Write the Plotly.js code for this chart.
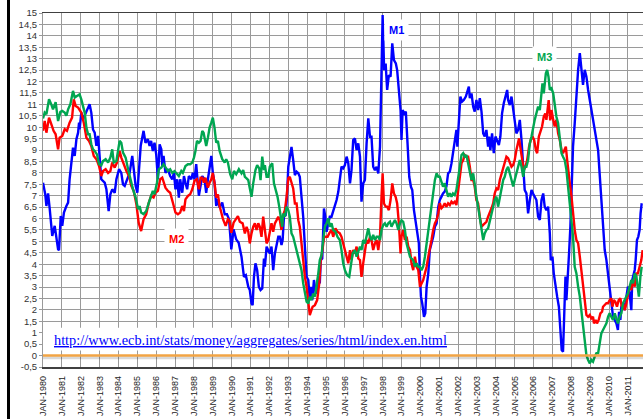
<!DOCTYPE html>
<html><head><meta charset="utf-8">
<script src="https://cdn.plot.ly/plotly-3.0.1.min.js"></script>
<style>
html,body{margin:0;padding:0;background:#fff;overflow:hidden;width:643px;height:419px;}
#chart{position:absolute;left:0;top:0;width:660px;height:419px;}
#frame{position:absolute;left:7px;top:0;width:3px;height:419px;background:#000;}
</style></head><body>
<div id="chart"></div><div id="frame"></div>
<script>
const xTickYears = [1980,1981,1982,1983,1984,1985,1986,1987,1988,1989,1990,1991,1992,1993,1994,1995,1996,1997,1998,1999,2000,2001,2002,2003,2004,2005,2006,2007,2008,2009,2010,2011];
const xTickLabels = ['JAN-1980','JAN-1981','JAN-1982','JAN-1983','JAN-1984','JAN-1985','JAN-1986','JAN-1987','JAN-1988','JAN-1989','JAN-1990','JAN-1991','JAN-1992','JAN-1993','JAN-1994','JAN-1995','JAN-1996','JAN-1997','JAN-1998','JAN-1999','JAN-2000','JAN-2001','JAN-2002','JAN-2003','JAN-2004','JAN-2005','JAN-2006','JAN-2007','JAN-2008','JAN-2009','JAN-2010','JAN-2011'];
const yTickVals = [-0.5,0,0.5,1,1.5,2,2.5,3,3.5,4,4.5,5,5.5,6,6.5,7,7.5,8,8.5,9,9.5,10,10.5,11,11.5,12,12.5,13,13.5,14,14.5,15];
const yTickLabels = ['-0,5','0','0,5','1','1,5','2','2,5','3','3,5','4','4,5','5','5,5','6','6,5','7','7,5','8','8,5','9','9,5','10','10,5','11','11,5','12','12,5','13','13,5','14','14,5','15'];

const m1X = [1980.00,1980.12,1980.18,1980.27,1980.35,1980.49,1980.62,1980.71,1980.80,1980.85,1980.94,1981.02,1981.11,1981.24,1981.33,1981.41,1981.50,1981.59,1981.68,1981.77,1981.86,1981.91,1981.94,1982.03,1982.12,1982.30,1982.47,1982.56,1982.65,1982.74,1982.83,1982.92,1983.00,1983.09,1983.27,1983.36,1983.48,1983.57,1983.67,1983.80,1983.89,1984.03,1984.15,1984.24,1984.33,1984.45,1984.59,1984.73,1984.82,1984.91,1985.00,1985.09,
1985.18,1985.33,1985.43,1985.56,1985.65,1985.73,1985.82,1985.91,1986.00,1986.09,1986.18,1986.27,1986.32,1986.39,1986.49,1986.62,1986.74,1986.85,1986.94,1987.02,1987.11,1987.20,1987.27,1987.38,1987.47,1987.55,1987.64,1987.73,1987.86,1987.94,1988.03,1988.12,1988.17,1988.26,1988.35,1988.44,1988.56,1988.65,1988.74,1988.83,1988.92,1989.00,1989.09,1989.18,1989.27,1989.36,1989.50,1989.63,1989.75,1989.86,1989.98,1990.10,1990.24,1990.37,
1990.52,1990.65,1990.75,1990.88,1990.96,1991.05,1991.11,1991.18,1991.26,1991.35,1991.44,1991.53,1991.62,1991.71,1991.76,1991.85,1991.94,1992.02,1992.11,1992.20,1992.29,1992.38,1992.47,1992.55,1992.64,1992.70,1992.77,1992.86,1992.93,1993.00,1993.08,1993.17,1993.26,1993.35,1993.44,1993.53,1993.61,1993.70,1993.79,1993.88,1993.97,1994.06,1994.14,1994.20,1994.27,1994.36,1994.46,1994.55,1994.62,1994.67,1994.72,1994.80,1994.89,1994.96,1995.03,1995.12,1995.20,1995.29,1995.38,1995.47,1995.56,1995.65,
1995.73,1995.82,1995.91,1996.00,1996.09,1996.18,1996.27,1996.35,1996.44,1996.53,1996.62,1996.71,1996.80,1996.88,1996.97,1997.06,1997.15,1997.24,1997.33,1997.41,1997.50,1997.59,1997.68,1997.77,1997.86,1997.94,1998.00,1998.08,1998.16,1998.24,1998.33,1998.42,1998.51,1998.60,1998.70,1998.77,1998.86,1998.95,1999.00,1999.06,1999.15,1999.23,1999.32,1999.41,1999.50,1999.57,1999.66,1999.75,1999.83,1999.92,1999.98,2000.03,2000.10,2000.19,2000.26,2000.33,2000.42,2000.50,2000.59,2000.68,2000.77,2000.86,2000.95,
2001.03,2001.12,2001.20,2001.29,2001.38,2001.47,2001.56,2001.65,2001.73,2001.82,2001.91,2001.96,2002.05,2002.12,2002.21,2002.30,2002.41,2002.49,2002.57,2002.62,2002.71,2002.80,2002.88,2002.97,2003.06,2003.15,2003.24,2003.33,2003.41,2003.50,2003.59,2003.64,2003.71,2003.80,2003.89,2003.98,2004.07,2004.16,2004.24,2004.33,2004.42,2004.53,2004.60,2004.65,2004.74,2004.83,2004.92,2005.00,2005.09,2005.18,2005.27,2005.36,2005.45,2005.53,2005.62,2005.71,2005.80,2005.89,2005.97,2006.06,2006.15,2006.24,
2006.33,2006.42,2006.51,2006.59,2006.68,2006.77,2006.86,2006.91,2007.00,2007.07,2007.16,2007.25,2007.34,2007.42,2007.49,2007.56,2007.63,2007.69,2007.74,2007.81,2007.88,2007.95,2008.02,2008.09,2008.18,2008.27,2008.36,2008.45,2008.53,2008.62,2008.71,2008.80,2008.89,2008.98,2009.06,2009.15,2009.24,2009.33,2009.42,2009.50,2009.59,2009.68,2009.77,2009.86,2009.94,2010.00,2010.07,2010.12,2010.21,2010.30,2010.39,2010.47,2010.53,2010.60,2010.65,2010.74,2010.83,2010.92,2011.00,2011.09,2011.18,2011.23,2011.30,2011.36,2011.41,2011.48,2011.55,2011.62,2011.67,2011.73];
const m1Y = [7.57,7.06,6.55,7.1,6.48,5.24,5.68,5.16,4.65,4.62,6.11,5.68,6.26,6.55,6.7,7.72,8.3,9.1,8.74,9.47,9.76,10.2,9.9,10.64,10.35,10.71,11.0,10.64,9.9,9.76,9.18,9.62,8.6,7.72,7.57,7.28,6.33,7.06,7.28,7.13,7.72,8.16,8.0,7.5,7.43,7.72,8.0,8.74,8.16,7.43,7.13,8.0,
9.2,9.84,9.32,9.47,9.18,9.4,8.96,9.32,8.81,7.72,9.25,9.03,8.3,8.74,8.0,8.16,7.86,7.72,8.0,7.28,7.72,6.92,7.72,7.13,7.86,7.57,7.28,7.86,7.72,8.0,7.72,8.38,7.86,7.0,7.43,7.86,7.72,7.13,7.72,8.3,8.74,8.0,7.57,6.55,6.84,6.48,6.7,6.19,6.19,5.97,4.65,5.53,5.09,4.94,
4.33,3.45,3.52,3.01,2.87,2.28,2.21,3.45,4.04,3.74,3.01,2.87,2.94,4.25,3.89,4.77,4.62,4.47,4.77,3.74,4.47,4.91,5.2,5.2,4.84,5.06,6.08,6.15,6.95,8.27,8.71,9.14,8.56,7.9,8.05,7.98,7.83,6.95,6.08,4.77,3.45,3.31,2.43,3.01,2.43,3.31,2.72,2.87,3.45,3.16,4.18,4.25,6.44,6.08,5.42,5.79,6.08,6.08,6.3,6.52,6.81,7.17,
7.69,8.27,8.2,8.34,8.71,8.42,7.54,8.12,9.44,9.51,9.0,9.29,8.71,6.74,7.54,7.69,9.29,10.39,9.58,9.58,8.27,8.12,8.27,7.98,9.14,12.06,14.91,12.5,12.79,11.63,12.28,12.21,13.67,12.94,12.79,12.5,11.48,10.75,9.44,10.75,10.6,10.68,9.29,7.83,7.39,7.25,6.37,5.79,5.35,4.91,3.45,2.58,2.28,1.7,1.85,3.01,3.6,4.62,4.91,5.2,5.64,5.79,6.52,
6.81,6.96,7.1,7.18,7.4,7.98,8.05,8.42,8.86,9.29,9.88,9.15,10.32,11.34,11.12,11.19,11.34,11.56,11.78,11.27,11.48,10.9,10.68,11.19,10.75,11.27,10.68,9.73,9.59,9.88,9.15,9.59,9.0,9.73,8.86,9.59,9.44,9.22,9.59,10.61,11.05,11.48,11.63,11.19,10.97,11.34,10.75,10.17,9.73,9.88,10.32,9.44,7.98,7.25,7.1,6.23,6.81,7.25,7.1,6.96,6.81,6.08,
5.94,6.81,7.1,6.52,6.37,6.52,5.35,4.18,4.33,3.6,3.02,2.58,2.14,1.12,0.24,0.17,2.14,3.46,2.43,3.31,4.48,5.64,7.4,9.15,10.17,11.63,12.51,13.24,12.65,11.85,12.51,12.21,11.63,11.19,10.9,10.46,10.03,9.59,9.0,7.98,6.81,5.35,4.62,4.18,3.6,3.02,2.73,2.14,1.7,1.56,1.41,1.12,1.92,1.56,2.14,2.29,1.99,2.58,3.02,2.73,1.99,3.31,3.6,3.75,4.18,5.06,5.21,5.5,6.23,6.67];

const m2X = [1980.00,1980.09,1980.18,1980.32,1980.44,1980.56,1980.67,1980.80,1980.88,1981.02,1981.15,1981.27,1981.41,1981.54,1981.63,1981.73,1981.86,1982.03,1982.16,1982.30,1982.44,1982.56,1982.69,1982.83,1982.97,1983.09,1983.18,1983.32,1983.45,1983.57,1983.67,1983.80,1983.92,1984.06,1984.15,1984.28,1984.42,1984.56,1984.68,1984.81,1984.95,1985.07,
1985.20,1985.33,1985.47,1985.61,1985.73,1985.86,1985.96,1986.09,1986.21,1986.32,1986.39,1986.49,1986.62,1986.74,1986.88,1987.02,1987.15,1987.27,1987.38,1987.47,1987.55,1987.68,1987.80,1987.91,1988.03,1988.16,1988.26,1988.35,1988.44,1988.53,1988.61,1988.74,1988.83,1988.92,1989.00,1989.09,1989.18,1989.27,1989.36,1989.45,1989.54,1989.68,1989.80,1989.89,1989.98,1990.10,1990.24,1990.33,
1990.43,1990.58,1990.70,1990.79,1990.88,1990.96,1991.05,1991.14,1991.23,1991.32,1991.41,1991.49,1991.58,1991.67,1991.76,1991.85,1991.94,1992.02,1992.11,1992.20,1992.29,1992.38,1992.47,1992.55,1992.64,1992.73,1992.82,1992.91,1993.00,1993.08,1993.17,1993.26,1993.35,1993.44,1993.53,1993.61,1993.70,1993.79,1993.88,1993.97,1994.06,1994.14,1994.20,1994.29,1994.41,1994.53,1994.64,1994.72,1994.81,1994.90,1994.99,1995.08,1995.17,1995.29,1995.38,1995.50,1995.61,
1995.73,1995.82,1995.91,1996.05,1996.18,1996.27,1996.35,1996.44,1996.53,1996.62,1996.71,1996.80,1996.88,1996.97,1997.06,1997.15,1997.24,1997.33,1997.41,1997.50,1997.59,1997.68,1997.77,1997.86,1997.94,1998.00,1998.07,1998.16,1998.24,1998.33,1998.42,1998.51,1998.60,1998.69,1998.77,1998.86,1998.95,1999.00,1999.09,1999.18,1999.27,1999.36,1999.45,1999.53,1999.62,1999.71,1999.80,1999.89,1999.98,2000.06,2000.15,2000.24,2000.33,2000.42,2000.50,2000.59,2000.68,2000.77,2000.86,2000.95,
2001.03,2001.12,2001.20,2001.29,2001.38,2001.47,2001.56,2001.65,2001.73,2001.82,2001.91,2002.00,2002.09,2002.18,2002.27,2002.35,2002.44,2002.53,2002.62,2002.71,2002.80,2002.88,2002.97,2003.06,2003.15,2003.24,2003.33,2003.41,2003.50,2003.59,2003.68,2003.77,2003.86,2003.94,2004.03,2004.12,2004.21,2004.30,2004.39,2004.47,2004.56,2004.65,2004.74,2004.83,2004.92,2005.00,2005.09,2005.18,2005.23,2005.32,2005.41,2005.48,2005.57,2005.66,2005.76,2005.85,2005.94,2006.03,2006.12,2006.19,2006.28,
2006.36,2006.45,2006.54,2006.62,2006.68,2006.74,2006.80,2006.88,2006.95,2007.04,2007.12,2007.21,2007.30,2007.39,2007.48,2007.56,2007.65,2007.71,2007.78,2007.83,2007.92,2008.01,2008.09,2008.18,2008.27,2008.36,2008.45,2008.53,2008.59,2008.66,2008.75,2008.80,2008.89,2008.98,2009.06,2009.15,2009.20,2009.29,2009.36,2009.45,2009.54,2009.63,2009.68,2009.77,2009.86,2009.95,2010.03,2010.12,2010.18,2010.25,2010.33,2010.42,2010.51,2010.60,2010.67,2010.74,2010.83,2010.92,2011.00,2011.09,2011.18,2011.27,2011.36,2011.45,2011.53,2011.62,2011.71,2011.78];
const m2Y = [9.84,10.27,9.76,10.42,10.13,9.84,9.69,9.03,9.54,9.62,9.91,9.84,10.2,10.42,11.22,10.93,10.86,10.64,10.2,9.54,9.4,9.18,8.74,8.6,8.3,7.86,8.08,8.16,8.0,8.08,8.45,8.23,8.45,8.96,8.67,8.38,8.08,7.86,7.43,7.21,6.62,5.82,
5.45,5.97,6.19,6.7,6.99,6.92,7.13,7.21,7.72,7.79,7.57,7.35,7.21,7.13,6.7,6.26,6.19,6.26,6.55,6.33,6.84,6.99,7.06,7.28,7.65,7.72,7.28,7.79,7.79,7.57,7.79,7.35,7.57,7.72,8.0,7.57,6.92,7.06,6.55,6.26,5.97,5.68,5.97,5.9,5.38,5.82,5.97,6.11,
5.86,5.79,5.35,5.64,5.42,4.91,5.35,5.64,5.79,5.5,5.79,5.64,5.2,6.08,5.5,4.91,5.06,5.5,5.79,5.42,5.79,5.93,6.08,5.93,5.5,6.15,6.37,6.95,7.76,7.83,7.61,7.32,6.66,6.66,5.93,5.64,4.91,4.04,3.45,3.01,2.28,1.77,1.92,2.14,2.21,2.43,3.16,4.18,4.62,5.2,5.2,5.2,5.35,5.5,5.2,5.57,5.42,
5.35,5.2,4.91,4.33,4.04,4.62,4.18,4.62,4.47,4.77,4.25,4.18,3.45,4.04,4.62,5.06,4.91,5.2,5.06,4.62,4.91,5.06,4.62,5.2,6.95,7.98,6.66,6.52,6.52,6.37,6.81,7.54,7.1,6.95,6.66,5.79,4.47,5.2,5.5,5.06,5.2,4.77,4.62,4.04,3.74,4.33,3.89,3.74,3.01,3.16,3.31,3.6,3.89,4.33,4.62,5.06,5.5,5.79,5.93,6.22,
6.67,6.45,6.52,6.67,6.52,6.67,6.59,6.74,6.67,6.74,6.59,7.25,7.98,8.42,8.56,8.78,8.71,8.71,8.27,7.69,7.69,7.4,6.81,6.67,6.08,5.64,5.72,5.79,5.86,6.08,6.23,6.45,6.67,7.1,7.32,7.25,7.69,7.98,8.27,8.49,8.71,8.64,8.42,8.27,8.35,8.56,9.0,9.44,9.51,9.0,8.42,8.13,8.27,8.56,9.15,9.44,9.59,9.44,9.0,8.86,9.59,
9.8,10.03,10.46,10.6,10.32,10.9,11.19,10.3,10.75,10.32,10.03,10.32,9.73,9.44,9.0,8.86,9.0,9.15,8.56,8.13,7.54,6.96,6.23,5.5,5.06,4.92,4.33,3.75,3.31,2.58,1.99,1.78,1.7,1.78,1.63,1.7,1.41,1.56,1.41,1.56,1.85,1.92,2.14,2.21,2.29,2.29,2.43,2.51,2.14,2.43,2.36,2.14,2.43,2.51,2.14,2.29,1.99,2.29,2.73,3.02,2.87,3.31,3.02,3.6,3.6,3.89,4.18,4.62];

const m3X = [1980.00,1980.09,1980.18,1980.32,1980.44,1980.53,1980.67,1980.80,1980.92,1981.02,1981.15,1981.24,1981.33,1981.45,1981.59,1981.68,1981.80,1981.94,1982.03,1982.12,1982.21,1982.30,1982.39,1982.47,1982.56,1982.65,1982.74,1982.86,1982.97,1983.09,1983.18,1983.32,1983.45,1983.57,1983.67,1983.75,1983.89,1984.06,1984.15,1984.24,1984.38,1984.51,1984.63,1984.77,1984.91,1985.04,
1985.12,1985.20,1985.33,1985.47,1985.61,1985.73,1985.82,1985.91,1986.04,1986.14,1986.27,1986.39,1986.49,1986.62,1986.74,1986.85,1986.97,1987.10,1987.20,1987.33,1987.41,1987.55,1987.68,1987.80,1987.91,1988.00,1988.08,1988.16,1988.26,1988.35,1988.44,1988.51,1988.58,1988.65,1988.74,1988.83,1988.92,1989.00,1989.09,1989.18,1989.27,1989.36,1989.50,1989.63,1989.71,1989.80,1989.92,1990.03,1990.12,1990.24,1990.38,
1990.52,1990.61,1990.70,1990.79,1990.88,1990.96,1991.05,1991.14,1991.26,1991.35,1991.46,1991.53,1991.62,1991.71,1991.76,1991.85,1991.94,1992.02,1992.15,1992.24,1992.34,1992.43,1992.52,1992.59,1992.68,1992.73,1992.82,1992.91,1993.00,1993.08,1993.17,1993.26,1993.35,1993.44,1993.53,1993.61,1993.70,1993.79,1993.88,1993.97,1994.06,1994.14,1994.23,1994.32,1994.41,1994.50,1994.59,1994.67,1994.76,1994.85,1994.94,1995.03,1995.12,1995.20,1995.29,1995.38,1995.50,1995.61,
1995.73,1995.82,1995.91,1996.00,1996.12,1996.23,1996.32,1996.41,1996.53,1996.62,1996.71,1996.80,1996.88,1996.97,1997.06,1997.15,1997.24,1997.33,1997.41,1997.50,1997.59,1997.68,1997.77,1997.86,1997.94,1998.03,1998.12,1998.21,1998.30,1998.39,1998.47,1998.56,1998.65,1998.74,1998.83,1998.92,1999.00,1999.09,1999.18,1999.27,1999.36,1999.45,1999.53,1999.62,1999.71,1999.80,1999.89,1999.98,2000.06,2000.15,2000.24,2000.33,2000.42,2000.50,2000.59,2000.68,2000.77,2000.86,2000.95,
2001.03,2001.12,2001.20,2001.29,2001.38,2001.47,2001.56,2001.65,2001.73,2001.82,2001.91,2002.00,2002.09,2002.18,2002.27,2002.35,2002.44,2002.53,2002.62,2002.71,2002.80,2002.88,2002.97,2003.06,2003.15,2003.24,2003.33,2003.41,2003.50,2003.59,2003.68,2003.77,2003.86,2003.94,2004.03,2004.12,2004.21,2004.30,2004.39,2004.47,2004.56,2004.65,2004.74,2004.83,2004.92,2005.00,2005.09,2005.18,2005.27,2005.36,2005.45,2005.53,2005.62,2005.71,2005.80,2005.89,2005.97,2006.06,2006.15,2006.24,2006.33,
2006.42,2006.47,2006.54,2006.65,2006.72,2006.79,2006.86,2006.95,2007.04,2007.12,2007.21,2007.30,2007.39,2007.48,2007.56,2007.65,2007.74,2007.83,2007.92,2008.01,2008.09,2008.18,2008.27,2008.36,2008.45,2008.53,2008.62,2008.71,2008.80,2008.89,2008.98,2009.06,2009.15,2009.24,2009.33,2009.42,2009.50,2009.59,2009.68,2009.77,2009.86,2009.95,2010.03,2010.12,2010.21,2010.30,2010.39,2010.47,2010.56,2010.65,2010.74,2010.83,2010.92,2011.00,2011.09,2011.18,2011.27,2011.36,2011.45,2011.53,2011.58,2011.66,2011.73];
const m3Y = [10.38,10.64,10.57,11.22,11.0,10.78,11.1,10.27,10.67,10.71,10.64,10.5,10.78,11.0,11.59,11.3,11.37,11.44,11.22,10.93,10.64,9.98,9.69,9.69,9.25,9.03,8.96,8.81,8.38,8.33,8.52,8.6,8.45,8.67,9.03,8.45,8.52,9.4,9.32,8.89,8.67,8.16,7.72,7.28,6.92,6.41,
6.55,6.26,6.19,6.33,6.7,7.06,7.21,7.06,7.57,8.16,8.23,8.38,8.23,8.08,8.16,8.0,8.08,7.94,7.86,8.08,8.0,8.3,8.38,8.38,8.45,8.67,8.96,9.4,9.32,9.4,9.84,9.76,9.4,9.18,9.54,9.98,10.2,10.42,9.98,9.32,9.4,8.96,8.6,8.45,8.6,8.45,7.94,7.72,8.08,7.94,8.16,
7.98,8.12,7.83,7.76,7.68,7.32,6.95,7.54,8.12,8.34,8.2,7.68,8.71,8.12,8.34,7.83,7.83,8.27,8.42,7.54,7.25,6.95,6.52,6.08,5.64,6.22,6.08,6.52,6.37,6.08,5.35,5.2,4.91,4.62,4.33,4.04,3.74,3.16,2.72,2.36,2.28,2.58,2.43,2.72,2.58,3.01,3.6,4.18,4.4,5.06,5.64,5.79,6.01,5.64,5.79,5.5,5.42,5.2,
5.06,4.62,4.04,3.74,3.52,3.45,4.04,4.47,4.62,4.33,4.55,4.77,4.62,5.06,4.91,5.2,5.57,5.2,5.06,5.28,5.06,5.2,5.2,5.06,5.5,5.71,5.79,5.64,5.79,5.86,5.64,5.79,5.93,5.79,5.5,5.79,5.93,5.86,5.5,4.91,4.62,4.33,4.25,4.18,3.89,4.04,3.89,3.89,3.74,3.89,4.33,4.91,5.5,6.08,6.66,7.25,7.69,7.98,7.83,
7.83,7.54,7.4,7.54,7.25,6.96,7.1,6.96,7.1,7.03,7.25,7.69,8.27,8.78,8.86,8.71,8.78,8.42,7.98,7.69,7.98,7.4,6.96,6.52,6.08,5.5,5.06,5.35,5.5,5.57,5.94,6.23,6.52,6.81,6.96,6.52,6.96,7.4,7.69,7.83,8.13,8.27,7.98,7.69,7.4,7.69,7.98,8.27,8.56,8.27,7.83,8.27,8.27,8.56,9.29,9.59,10.03,10.32,10.61,10.9,10.75,
11.63,11.92,11.48,12.36,12.51,12.21,11.63,11.7,11.48,10.9,10.46,10.17,9.59,8.86,8.71,8.56,8.13,7.4,6.52,5.94,5.21,3.89,3.6,3.02,2.58,1.99,1.41,0.68,0.02,-0.19,-0.34,-0.19,-0.27,-0.05,0.1,0.1,0.53,0.97,1.12,1.27,1.41,1.7,1.85,1.7,1.56,1.85,1.56,1.41,1.7,1.85,2.29,2.43,2.58,2.73,3.02,3.31,3.17,3.6,3.46,3.02,2.58,3.46,3.89];

const seriesNames = ['M1','M2','M3'];
const seriesColors = ['#0000ff','#ff0000','#00a651'];
const urlText = 'http://www.ecb.int/stats/money/aggregates/series/html/index.en.html';

const xs = [m1X, m2X, m3X], ys = [m1Y, m2Y, m3Y];
const traces = seriesNames.map((n, i) => ({
  x: xs[i], y: ys[i], name: n, type: 'scatter', mode: 'lines',
  line: {color: seriesColors[i], width: 2.4}
}));

// label anchor positions (x in years, y in %)
const labelX = [1998.74, 1987.05, 2006.6];
const labelY = [14.26, 5.1, 13.07];

const annotations = seriesNames.map((n, i) => ({
  x: labelX[i], y: labelY[i], xref: 'x', yref: 'y', text: '<b>' + n + '</b>',
  showarrow: false, bgcolor: '#ffffff', borderpad: 4,
  font: {family: 'Liberation Sans, Arial, sans-serif', size: 11, color: seriesColors[i]}
}));
annotations.push({
  x: 1980.5, y: 0.7, xref: 'x', yref: 'y', xanchor: 'left', yanchor: 'middle',
  text: '<u>' + urlText + '</u>', showarrow: false,
  font: {family: 'Liberation Serif, Times New Roman, serif', size: 14.3, color: '#0000ff'}
});

const layout = {
  width: 660, height: 419,
  margin: {l: 43, r: 10, t: 13, b: 52},
  paper_bgcolor: '#ffffff', plot_bgcolor: '#ffffff',
  showlegend: false,
  xaxis: {
    range: [1980, 2012.17], tickmode: 'array', tickvals: xTickYears, ticktext: xTickLabels,
    tickangle: -90, ticks: '', ticklabelstandoff: 4,
    tickfont: {family: 'Liberation Sans, Arial, sans-serif', size: 9, color: '#222'},
    showgrid: true, gridcolor: '#9a9a9a', gridwidth: 1,
    showline: true, linecolor: '#404040', linewidth: 1.5, mirror: true, zeroline: false
  },
  yaxis: {
    range: [-0.5, 15], tickmode: 'array', tickvals: yTickVals, ticktext: yTickLabels,
    ticks: 'outside', ticklen: 3, tickcolor: '#9a9a9a',
    tickfont: {family: 'Liberation Sans, Arial, sans-serif', size: 9.5, color: '#333'},
    showgrid: true, gridcolor: '#9a9a9a', gridwidth: 1,
    showline: true, linecolor: '#9a9a9a', linewidth: 1, zeroline: false
  },
  shapes: [
    {type: 'rect', xref: 'x', yref: 'y', x0: 1979.84, x1: 2001.34, y0: 0.22, y1: 1.22,
     fillcolor: '#ffffff', line: {width: 0}, layer: 'above'},
    {type: 'line', xref: 'paper', yref: 'y', x0: 0, x1: 1, y0: -0.09, y1: -0.09,
     line: {color: 'rgba(0,0,0,0.15)', width: 3}, layer: 'above'},
    {type: 'line', xref: 'paper', yref: 'y', x0: 0, x1: 1, y0: 0, y1: 0,
     line: {color: '#f2a444', width: 2.5}, layer: 'above'}
  ],
  annotations: annotations
};

Plotly.newPlot('chart', traces, layout, {staticPlot: true, displayModeBar: false});
</script>
</body></html>
